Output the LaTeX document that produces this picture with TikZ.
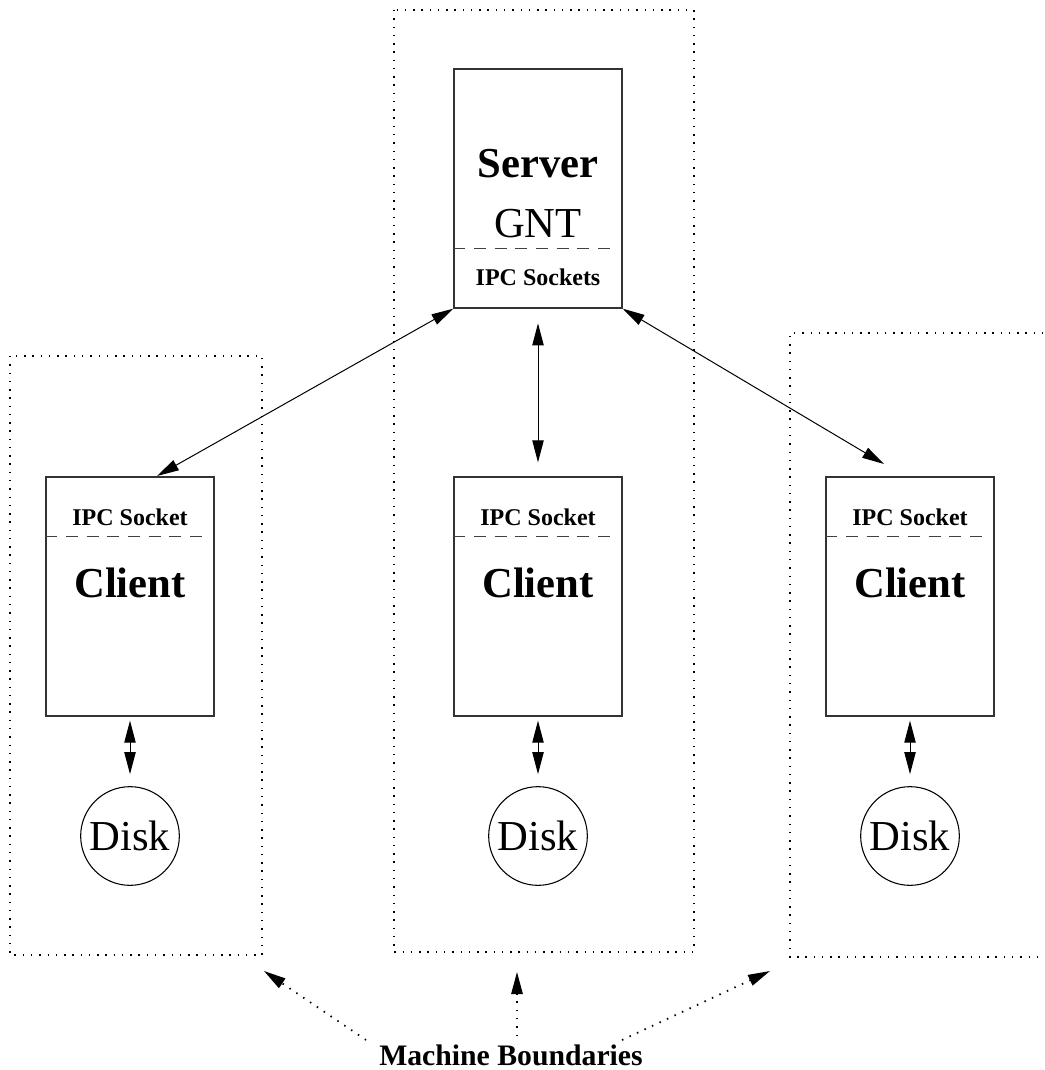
\documentclass[tikz,border=0pt]{standalone}
\usepackage{fontspec}
\setmainfont{Liberation Serif}
\usetikzlibrary{arrows.meta,calc}
\begin{document}
\begin{tikzpicture}[x=0.75pt,y=-0.75pt,
  boxnode/.style={draw=black!80,line width=1pt,minimum width=126pt,minimum height=179.25pt,inner sep=0pt},
  disknode/.style={draw,circle,line width=0.8pt,minimum size=74pt,inner sep=0pt,font=\fontsize{32}{32}\selectfont},
  sepline/.style={draw=black!75,line width=0.8pt,dash pattern=on 9pt off 6.5pt},
  boundary/.style={draw,line width=1.3pt,dash pattern=on 1.1pt off 5.1pt},
  bigbold/.style={anchor=base,font=\fontsize{32}{32}\selectfont\bfseries,inner sep=0pt},
  bigreg/.style={anchor=base,font=\fontsize{32}{32}\selectfont,inner sep=0pt},
  smallbold/.style={anchor=base,font=\fontsize{18}{18}\selectfont\bfseries,inner sep=0pt},
  link/.style={line width=0.75pt,{Triangle[length=16.5pt,width=8.5pt]}-{Triangle[length=16.5pt,width=8.5pt]}},
  pointer/.style={line width=1.3pt,dash pattern=on 1.1pt off 5.1pt,-{Triangle[length=16.5pt,width=8.5pt]}}]
\useasboundingbox (0,0) rectangle (1045,1070);

% machine boundaries
\draw[boundary] (10,356) rectangle (262,955);
\draw[boundary] (394,10) rectangle (694,952);
\draw[boundary] (1060,333) -- (790,333) -- (790,957) -- (1060,957);

% server
\node[boxnode] (server) at (538,188.5) {};
\draw[sepline] ($(server.south west)+(0,-60)$) -- ($(server.south east)+(-6,-60)$);
\node[bigbold] (srvlbl) at (538,177) {Server};
\node[bigreg] (gnt) at (538,237) {GNT};
\node[smallbold] (ipcs) at (538,285) {IPC Sockets};

% clients
\foreach \n/\x in {c1/130,c2/538,c3/910}{
  \node[boxnode] (\n) at (\x,596.5) {};
  \draw[sepline] ($(\n.north west)+(0,60)$) -- ($(\n.north east)+(-6,60)$);
  \node[smallbold] (\n ipc) at (\x,525) {IPC Socket};
  \node[bigbold] (\n lbl) at (\x,597) {Client};
}

% disks
\node[disknode] (d1) at (130,836) {Disk};
\node[disknode] (d2) at (538,836) {Disk};
\node[disknode] (d3) at (910,836) {Disk};

% client-disk links
\draw[link,shorten <=3pt,shorten >=9pt] (c1.south) -- (d1.north);
\draw[link,shorten <=3pt,shorten >=9pt] (c2.south) -- (d2.north);
\draw[link,shorten <=3pt,shorten >=9pt] (c3.south) -- (d3.north);

% server-client links
\coordinate (c1tip) at (157,476);
\coordinate (c3tip) at (884,464);
\draw[link] (server.south west) -- (c1tip);
\draw[link,shorten <=11pt,shorten >=10.5pt] (server.south) -- (c2.north);
\draw[link] (server.south east) -- (c3tip);

% label
\node[anchor=base,font=\fontsize{22.3}{22.3}\selectfont\bfseries,inner sep=0pt] (mb) at (511,1065) {Machine Boundaries};
\coordinate (t1) at (366,1040);
\coordinate (t2) at (517,1036);
\coordinate (t3) at (622,1040);
\coordinate (h1) at (264,971);
\coordinate (h2) at (517,972);
\coordinate (h3) at (770,971);
\draw[pointer] (t1) -- (h1);
\draw[pointer] (t2) -- (h2);
\draw[pointer] (t3) -- (h3);
\end{tikzpicture}
\end{document}
